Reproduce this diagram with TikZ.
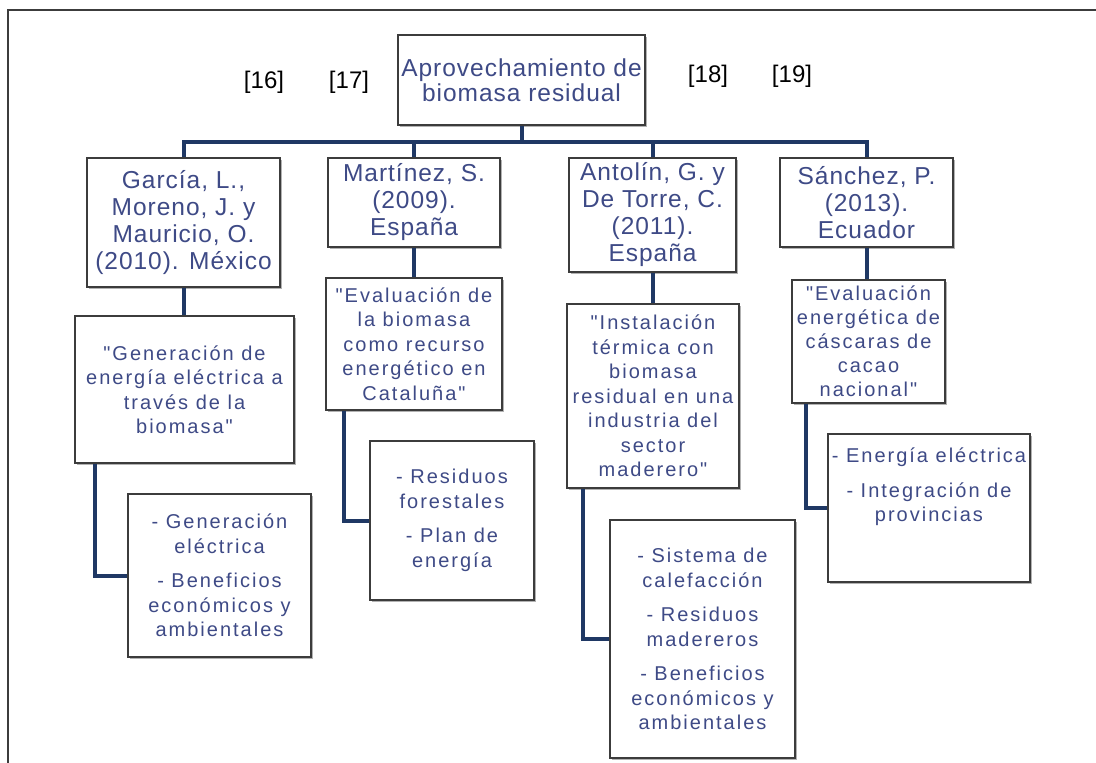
\documentclass[tikz,border=0pt]{standalone}
\usepackage{fontspec}
\setmainfont{Liberation Sans}
\newfontfamily\headfont[LetterSpace=4]{Liberation Sans}
\newfontfamily\boxfont[LetterSpace=10]{Liberation Sans}
\usetikzlibrary{shadows}
\definecolor{txtblue}{RGB}{62,74,134}
\definecolor{linkblue}{RGB}{31,56,100}
\definecolor{framegray}{RGB}{60,60,60}
\tikzset{
    box/.style={draw=framegray, line width=1.6pt, fill=white, inner sep=0pt, align=center, text=txtblue,
        drop shadow={shadow xshift=1.5pt, shadow yshift=-1.5pt, opacity=0.3, fill=black}},
    head/.style={box, font=\headfont\fontsize{24.5}{27}\selectfont},
    leaf/.style={box, font=\boxfont\fontsize{20}{24.5}\selectfont},
    link/.style={draw=linkblue, line width=4pt},
    ref/.style={font=\fontsize{24}{28}\selectfont},
}

\begin{document}
\begin{tikzpicture}[x=1pt,y=-1pt]
    \useasboundingbox (0,0) rectangle (1096,763);
    \draw[framegray, line width=1.6pt] (8,763) -- (8,10) -- (1096,10);
    %% Root and references
    \node[head, font=\headfont\fontsize{24.5}{25}\selectfont, minimum width=247pt, minimum height=90pt] (0) at (521.5,80) {Aprovechamiento de\\biomasa residual};
    \node[ref] (r16) at (264,82) {[16]};
    \node[ref] (r17) at (349,82) {[17]};
    \node[ref] (r18) at (708,76) {[18]};
    \node[ref] (r19) at (792,76) {[19]};
    %% Authors
    \node[head, minimum width=193pt, minimum height=129pt] (1) at (183.5,222.5) {García, L.,\\Moreno, J. y\\Mauricio, O.\\(2010). México};
    \node[head, minimum width=172pt, minimum height=89pt] (2) at (414,202.5) {Martínez, S.\\(2009).\\España};
    \node[head, minimum width=167pt, minimum height=114pt] (3) at (652.5,215) {Antolín, G. y\\De Torre, C.\\(2011).\\España};
    \node[head, minimum width=173pt, minimum height=89pt] (4) at (866.5,202.5) {Sánchez, P.\\(2013).\\Ecuador};
    %% Titles
    \node[leaf, minimum width=219pt, minimum height=147pt] (5) at (184.5,389.5) {"Generación de\\energía eléctrica a\\través de la\\biomasa"};
    \node[leaf, minimum width=176pt, minimum height=132pt] (6) at (414,344) {"Evaluación de\\la biomasa\\como recurso\\energético en\\Cataluña"};
    \node[leaf, minimum width=172pt, minimum height=184pt] (7) at (653,396) {"Instalación\\térmica con\\biomasa\\residual en una\\industria del\\sector\\maderero"};
    \node[leaf, font=\boxfont\fontsize{20}{24}\selectfont, minimum width=153pt, minimum height=123pt] (8) at (868.5,341.5) {"Evaluación\\energética de\\cáscaras de\\cacao\\nacional"};
    %% Topics
    \node[leaf, minimum width=183pt, minimum height=163pt] (9) at (219.5,575.5) {- Generación\\eléctrica\\[10pt]- Beneficios\\económicos y\\ambientales};
    \node[leaf, minimum width=164pt, minimum height=159pt] (10) at (452,520.5) {- Residuos\\forestales\\[10pt]- Plan de\\energía};
    \node[leaf, minimum width=185pt, minimum height=238pt] (11) at (702.5,639) {- Sistema de\\calefacción\\[10pt]- Residuos\\madereros\\[10pt]- Beneficios\\económicos y\\ambientales};
    \node[leaf, minimum width=202pt, minimum height=148pt] (12) at (929,508) {\parbox[c][120pt][t]{200pt}{\centering - Energía eléctrica\\[10pt]- Integración de\\provincias}};
    %% Tree lines
    \coordinate (b) at (521.5,142);
    \draw[link] (0.south) -- (b);
    \draw[link] (1.north) |- (b) -| (4.north);
    \draw[link] (2.north) -- (2.north |- b);
    \draw[link] (3.north) -- (3.north |- b);
    \draw[link] (1.south) -- (1.south |- 5.north);
    \draw[link] (2.south) -- (2.south |- 6.north);
    \draw[link] (3.south) -- (3.south |- 7.north);
    \draw[link] (4.south) -- (4.south |- 8.north);
    %% Side lines
    \draw[link] ([xshift=21pt]5.south west) |- (9.west);
    \draw[link] ([xshift=19pt]6.south west) |- (10.west);
    \draw[link] ([xshift=17pt]7.south west) |- (11.west);
    \draw[link] ([xshift=15pt]8.south west) |- (12.west);
\end{tikzpicture}
\end{document}
